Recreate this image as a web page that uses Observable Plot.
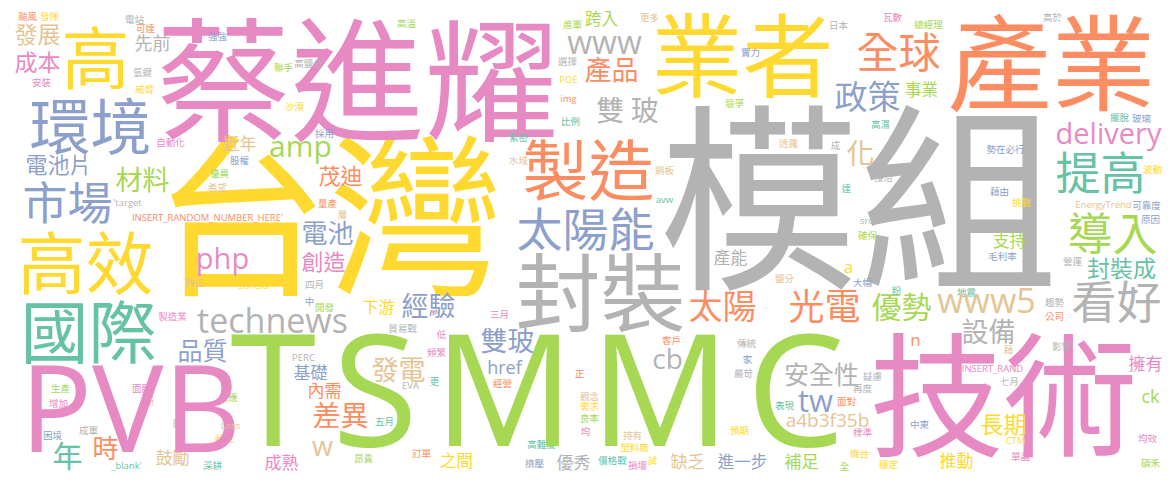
<!DOCTYPE html>
<html><head><meta charset="utf-8">
<script src="https://cdn.jsdelivr.net/npm/d3@7"></script>
<script src="https://cdn.jsdelivr.net/npm/@observablehq/plot@0.6"></script>
<style>html,body{margin:0;padding:0;background:#fff;overflow:hidden}</style>
</head><body><div id="chart"></div>
<script>
// [word, weight (font size), layoutX, layoutY, colour group]
const largeWords = [
  ["模組",200,858,197,7],["台灣",175,328,215,5],["蔡進耀",134,357,80,3],["TSMMC",156,537,396,4],
  ["技術",134,1003,395,3],["PVB",120,130,413,3],["產業",104,1051,63,1],["業者",91,742,55,5],
  ["封裝",85,600,292,7],["製造",66,588,169,1],["高效",68,85,263,5],["國際",68,88,332,0],
  ["高",68,95,58,5],["環境",61,90,126,2]
];
const mediumWords = [
  ["太陽能",46,585,228,2],["提高",45,1100,172,0],["導入",45,1112,233,4],["看好",45,1116,301,7],
  ["市場",45,67,202,2],["全球",42,898,52,1],["光電",36,824,306,1],["太陽",34,722,306,1],
  ["政策",33,867,96,2],["technews",34,272,322,7],["www5",34,986,302,6],["www",32,604,43,7],
  ["優勢",30,901,306,4],["amp",30,300,147,4],["tw",31,815,402,2],["delivery",29,1108,134,3],
  ["php",29,222,259,3],["化",28,860,153,6],["雙 玻",28,627,110,7],["差異",28,340,415,1],
  ["cb",28,667,360,7],["w",27,322,447,6],["發電",27,398,369,6],["雙玻",27,507,340,2],
  ["材料",27,142,179,4],["產品",27,611,69,1],["設備",27,988,331,7],["經驗",27,428,305,2],
  ["電池",26,327,233,2],["年",30,67,455,0],["時",26,105,448,1],["品質",25,202,350,2],
  ["安全性",25,821,374,7],["封裝成",23,1121,268,0],["長期",23,1003,424,5],["發展",23,37,34,6],
  ["成本",23,37,62,3],["電池片",22,58,164,2],["茂迪",22,340,175,1],["創造",22,323,261,3]
];
const smallWords = [
  ["a4b3f35b",19,827,420,6],["先前",18,152,43,7],["href",18,504,368,2],["ck",18,1150,397,4],
  ["近年",17,239,143,6],["產能",17,730,257,7],["基礎",17,310,372,2],["內需",17,324,390,1],
  ["鼓勵",17,172,457,6],["成熟",17,281,462,3],["之間",16.5,456,460,5],["優秀",17,573,462,7],
  ["缺乏",17,687,461,6],["進一步",16.5,742,461,2],["補足",17,801,461,4],["擁有",17,1145,363,3],
  ["推動",17,956,460,5],["支持",16.5,1009,240,4],["事業",16.5,921,89,4],["n",17,915,340,1],
  ["a",17,848,267,5],["跨入",16.5,601,18,4],["下游",16,378,306,5]
];
const tinyWords = [
  ["安裝",41,82,3],["颱風",27,16,1],["發揮",49,16,5],["電站",134,19,7],["可達",145,28,1],
  ["強強",217,36,2],["氫鍵",142,72,7],["威脅",144,89,5],["自動化",170,142,3],["聯手",283,67,4],
  ["沙漠",294,106,5],["高鹽分",308,63,7],["高溫",406,23,4],["採用",324,133,2],["股權",239,160,2],
  ["優異",219,173,4],["希望",217,187,6],["'target",127,202,7],["INSERT_RANDOM_NUMBER_HERE'",207,217,1],
  ["轉正",194,282,6],["zoneid",253,285,5],["製造業",172,316,3],["生產",60,388,4],["增加",58,403,3],
  ["困境",52,435,2],["成軍",88,430,7],["面臨",141,388,3],["新",149,401,6],["財",177,423,7],
  ["_blank'",126,465,0],["供應",228,397,4],["Loss",230,425,6],["狀況",224,438,5],["深耕",212,465,0],
  ["PERC",303,357,7],["昂貴",363,458,4],["五月",384,421,0],["EVA",410,385,7],["更",434,381,0],
  ["貿易戰",402,328,7],["低",441,334,3],["頻繁",436,352,3],["訂單",421,453,1],["經營",502,383,1],
  ["三月",499,314,3],["高難度",541,444,0],["擠壓",534,463,2],["正",579,373,1],["觀念",589,396,6],
  ["需求",589,406,5],["良率",589,418,4],["均",585,431,3],["客戶",671,340,1],["持有",632,435,6],
  ["塑料廠",634,447,5],["價格戰",612,460,0],["損壞",637,465,3],["試",652,460,5],["傳統",746,343,7],
  ["家",747,359,2],["嚴苛",743,373,7],["預期",739,430,5],["表現",784,405,0],["面對",846,401,1],
  ["標準",862,432,3],["機台",859,453,5],["全",844,466,4],["疑慮",872,376,7],["再度",862,388,7],
  ["穩定",888,464,5],["藉",1008,349,6],["影響",1061,346,7],["INSERT_RAND",992,368,3],["七月",1009,381,7],
  ["中東",919,424,2],["CTM",1015,440,5],["單晶",1020,456,3],["均效",1147,438,3],["碩禾",1150,463,4],
  ["鋼板",664,170,6],["avw",664,199,0],["鹽分",784,278,6],["大幅",862,282,2],["達",846,188,0],
  ["src",866,220,7],["確保",867,235,4],["更多",649,17,6],["日本",838,25,7],["實力",750,52,2],
  ["競爭",734,103,4],["透露",788,143,6],["成",835,145,7],["高濕",880,124,0],["瓦數",892,17,3],
  ["總經理",928,24,4],["高於",1052,17,7],["擺脫",1119,117,0],["玻璃",1141,118,2],["勢在必行",1005,149,2],
  ["波動",1152,169,5],["接洽",883,177,7],["藉由",999,191,2],["挑戰",1021,202,5],["EnergyTrend",1103,204,6],
  ["可靠度",1146,205,2],["原因",1150,219,2],["毛利率",1002,256,2],["營運",1072,261,7],["粉",896,290,0],
  ["地震",966,292,0],["趨勢",1054,302,7],["公司",1054,316,1],["水域",518,160,6],["量產",327,203,1],
  ["層",342,214,6],["四月",314,284,7],["中",309,301,2],["開發",324,307,4],["進軍",572,24,4],
  ["選擇",567,61,7],["POE",568,79,5],["img",568,98,1],["比例",570,121,0],["緊密",518,137,0]
];
const tinyWeight = 9.5;
const wideWord = "TSMMC", wideSpacing = 16;

const rows = [...largeWords, ...mediumWords, ...smallWords]
  .map(([text, w, x, y, g]) => ({text, w, x, y, g}))
  .concat(tinyWords.map(([text, x, y, g]) => ({text, w: tinyWeight, x, y, g})));
const isCJK = d => /[\u3400-\u9fff]/.test(d.text);
const cjk = rows.filter(isCJK);
const latin = rows.filter(d => !isCJK(d));

const W = 1175, H = 482;
const chart = Plot.plot({
  width: W, height: H,
  margin: 0,
  style: {background: "#fff"},
  x: {domain: [0, W], range: [0, W], axis: null},
  y: {domain: [0, H], range: [0, H], axis: null},
  color: {type: "ordinal", domain: d3.range(8), range: d3.schemeSet2},
  marks: [
    Plot.text(cjk, {
      x: "x", y: d => d.y + 0.06 * d.w, text: "text",
      fontSize: d => d.w, fill: "g",
      fontFamily: "Noto Sans CJK TC", textAnchor: "middle", lineAnchor: "middle"
    }),
    Plot.text(latin, {
      x: "x", y: "y", text: "text",
      fontSize: d => d.w, fill: "g",
      fontFamily: "Open Sans", textAnchor: "middle", lineAnchor: "middle"
    })
  ]
});
d3.select(chart).selectAll("text")
  .filter(function() { return this.textContent === wideWord; })
  .style("letter-spacing", wideSpacing + "px")
  .attr("dx", wideSpacing / 2);
document.getElementById("chart").appendChild(chart);
</script>
</body></html>
